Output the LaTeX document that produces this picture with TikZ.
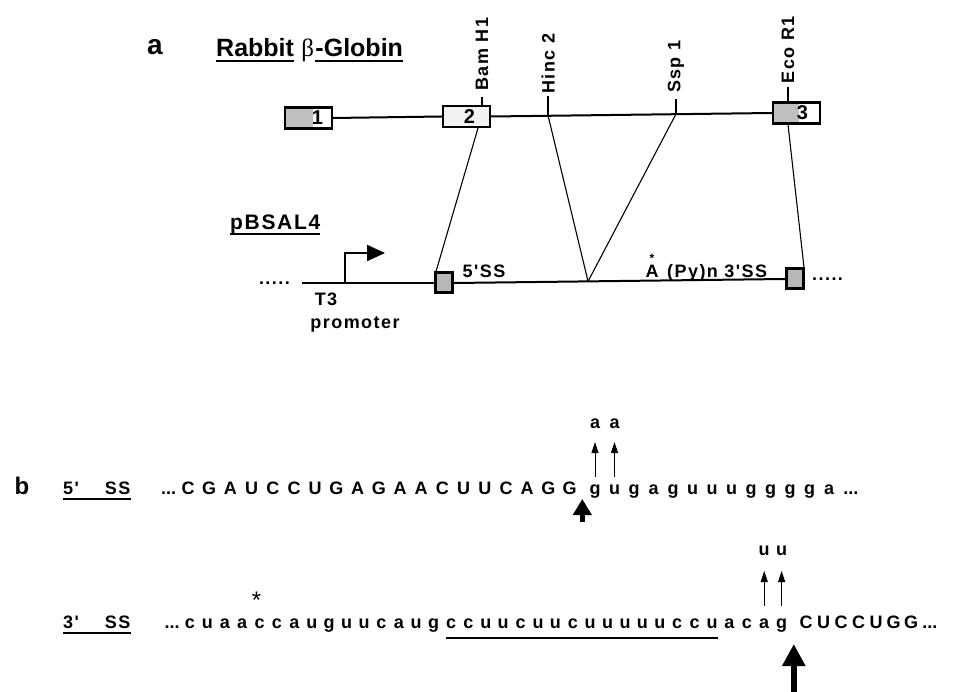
\documentclass[tikz,border=0pt]{standalone}
\usepackage{fontspec}
\setmainfont{Liberation Sans}
\newfontfamily\spacedsans[LetterSpace=8]{Liberation Sans}
\newfontfamily\greekserif{Liberation Serif}
\usetikzlibrary{arrows.meta, positioning, calc}

\tikzset{
  lbl/.style={font=\spacedsans\bfseries\fontsize{18}{20}\selectfont, inner sep=0pt},
  nt/.style={font=\bfseries\fontsize{18}{20}\selectfont, inner sep=0pt, anchor=base},
  exon/.style={draw, line width=2.2pt, fill=white, minimum width=47pt,
               minimum height=21pt, inner sep=0pt},
  grey part/.style={path picture={\fill[black!25] (path picture bounding box.north west)
               rectangle ([xshift=-#1]path picture bounding box.south east);}},
  ssbox/.style={draw, line width=3pt, fill=black!28, minimum width=17pt,
                minimum height=20pt, inner sep=0pt},
  gene/.style={line width=2pt},
  guide/.style={line width=1.1pt},
  tick/.style={line width=1.6pt},
  site/.style={lbl, rotate=90, anchor=west},
  mut/.style={line width=1pt, -{Triangle[width=7pt,length=11pt]}},
  cut5/.style={line width=5pt, -{Triangle[width=18pt,length=16pt]}},
  cut3/.style={line width=5.5pt, -{Triangle[width=22pt,length=22pt]}},
  uline/.style={line width=1.5pt},
}

\begin{document}
\begin{tikzpicture}[x=1pt, y=-1pt]
  \useasboundingbox (0,0) rectangle (971,692);

  % (a) rabbit beta-globin gene
  \node[font=\bfseries\fontsize{28}{30}\selectfont, inner sep=0pt] (pa) at (155,47) {a};
  \node[font=\bfseries\fontsize{25}{27}\selectfont, inner sep=0pt, anchor=base west]
    (rabbit) at (216,57) {Rabbit};
  \node[font=\greekserif\fontsize{25}{27}\selectfont, inner sep=0pt, anchor=base west]
    (beta) at ([xshift=7pt]rabbit.base east) {β};
  \node[font=\bfseries\fontsize{25}{27}\selectfont, inner sep=0pt, anchor=base west]
    (globin) at ([xshift=1pt]beta.base east) {-Globin};
  \draw[uline] ([yshift=-4pt]rabbit.base west) -- ([yshift=-4pt]rabbit.base east);
  \draw[uline] ([yshift=-4pt]globin.base west) -- ([yshift=-4pt]globin.base east);

  \node[exon, grey part=19pt] (ex1) at (308.5,118) {};
  \node[exon, fill=black!5] (ex2) at (466.5,116.5) {};
  \node[exon, grey part=21pt] (ex3) at (796.5,113) {};
  \node[font=\bfseries\fontsize{20}{22}\selectfont, inner sep=0pt] at ([xshift=9pt]ex1.center) {1};
  \node[font=\bfseries\fontsize{20}{22}\selectfont, inner sep=0pt] at ([xshift=3pt]ex2.center) {2};
  \node[font=\bfseries\fontsize{20}{22}\selectfont, inner sep=0pt] at ([xshift=6pt]ex3.center) {3};
  \draw[gene] (ex1.east) -- (ex2.west);
  \draw[gene] (ex2.east) -- (ex3.west);

  % restriction sites
  \coordinate (hinc) at ($(ex2.east)!0.203!(ex3.west)$);
  \coordinate (ssp) at ($(ex2.east)!0.658!(ex3.west)$);
  \draw[tick] ([xshift=15.5pt]ex2.north) -- ++(0,-8) coordinate (bamtop);
  \draw[tick] (hinc) -- ++(0,-20) coordinate (hinctop);
  \draw[tick] (ssp) -- ++(0,-15) coordinate (ssptop);
  \draw[tick] ([xshift=-8.5pt]ex3.north) -- ++(0,-14) coordinate (ecotop);
  \node[site] (bam) at ([yshift=6pt]bamtop) {Bam H1};
  \node[site] (hinclbl) at ([yshift=2pt]hinctop) {Hinc 2};
  \node[site] (ssplbl) at ([yshift=6pt]ssptop) {Ssp 1};
  \node[site] (eco) at ([yshift=4pt]ecotop) {Eco R1};

  % pBSAL4 construct
  \node[lbl, font=\spacedsans\bfseries\fontsize{21}{23}\selectfont, anchor=base west]
    (pbsal) at (230,230) {pBSAL4};
  \draw[uline] ([yshift=-4pt]pbsal.base west) -- ([yshift=-4pt]pbsal.base east);
  \node[ssbox] (ssl) at (444,283) {};
  \node[ssbox] (ssr) at (795,279) {};
  \coordinate (lstart) at (302,283);
  \coordinate (prom) at (345,283);
  \coordinate (vtx) at ($(ssl.east)!0.405!(ssr.west)$);
  \draw[gene] (lstart) -- (ssl.west);
  \draw[gene] (ssl.east) -- (ssr.west);
  \draw[gene, -{Triangle[length=18pt,width=16pt]}] (prom) -- ++(0,-30) -- ++(40,0);
  \node[lbl, anchor=east] (dotl) at ([xshift=-12pt]lstart) {.....};
  \node[lbl, anchor=west] (dotr) at ([xshift=7pt]ssr.east) {.....};

  \draw[guide] ([xshift=11.5pt]ex2.south) -- ([xshift=2pt]ssl.north west);
  \draw[guide] (hinc) -- (vtx);
  \draw[guide] (ssp) -- (vtx);
  \draw[guide] ([xshift=-8.5pt]ex3.south) -- ([xshift=-1pt]ssr.north east);

  \node[lbl] (t3) at (326,299) {T3};
  \node[lbl, anchor=base] (promlbl) at (355,329) {promoter};
  \node[lbl, anchor=base] (ss5) at (484,278) {5'SS};
  \node[lbl, anchor=base] (bpa) at (652,278) {A};
  \node[font=\bfseries\fontsize{12}{12}\selectfont, inner sep=0pt, anchor=south]
    (bpstar) at ([yshift=3pt]bpa.north) {*};
  \node[lbl, anchor=base west] (py) at (667,278) {(Py)n 3'SS};

  % (b) splice site sequences
  \node[font=\bfseries\fontsize{24}{26}\selectfont, inner sep=0pt, anchor=base]
    (pb) at (22,494) {b};
  \node[lbl, anchor=base west] (five) at (63,494) {5'\hspace{26pt}SS};
  \draw[uline] ([yshift=-5pt]five.base west) -- ([yshift=-5pt]five.base east);
  \foreach \b [count=\i] in {C,G,A,U,C,C,U,G,A,G,A,A,C,U,U,C,A,G,G}
    \node[nt] (e\i) at ({188+(\i-1)*21.2},494) {\b};
  \foreach \b [count=\i] in {g,u,g,a,g,u,u,u,g,g,g,g,a}
    \node[nt] (n\i) at ({595+(\i-1)*19.5},494) {\b};
  \node[nt, anchor=base east] (fdl) at ([xshift=-5pt]e1.base west) {...};
  \node[nt, anchor=base west] (fdr) at ([xshift=9pt]n13.base east) {...};
  \foreach \i in {1,2} {
    \node[nt] (ma\i) at ([yshift=66pt]n\i.base) {a};
    \draw[mut] ([yshift=17pt]n\i.base) -- ([yshift=52pt]n\i.base);
  }
  \coordinate (sp5) at ($(e19.base)!0.5!(n1.base)$);
  \draw[cut5] ([yshift=-28pt]sp5) -- ([yshift=-5pt]sp5);

  \node[lbl, anchor=base west] (three) at (63,628) {3'\hspace{26pt}SS};
  \draw[uline] ([yshift=-5pt]three.base west) -- ([yshift=-5pt]three.base east);
  \foreach \b [count=\i] in {c,u,a,a,c,c,a,u,g,u,u,c,a,u,g,c,c,u,u,c,u,u,c,u,u,u,u,u,c,c,u,a,c,a,g}
    \node[nt] (t\i) at ({190+(\i-1)*17.4},628) {\b};
  \foreach \b [count=\i] in {C,U,C,C,U,G,G}
    \node[nt] (x\i) at ({806+(\i-1)*17.5},628) {\b};
  \node[nt, anchor=base east] (tdl) at ([xshift=-5pt]t1.base west) {...};
  \node[nt, anchor=base west] (tdr) at ([xshift=4pt]x7.base east) {...};
  \node[font=\fontsize{24}{24}\selectfont, inner sep=0pt, anchor=base] (star)
    at ([xshift=-3pt, yshift=20pt]t5.base) {*};
  \draw[uline] ([yshift=-10pt]t16.base west) -- ([yshift=-10pt]t31.base east);
  \foreach \i in {34,35} {
    \node[nt] (mu\i) at ([yshift=73pt]t\i.base) {u};
    \draw[mut] ([yshift=22pt]t\i.base) -- ([yshift=57pt]t\i.base);
  }
  \coordinate (sp3) at ($(t35.base)!0.5!(x1.base)$);
  \draw[cut3] ([yshift=-70pt]sp3) -- ([yshift=-16pt]sp3);
\end{tikzpicture}
\end{document}
